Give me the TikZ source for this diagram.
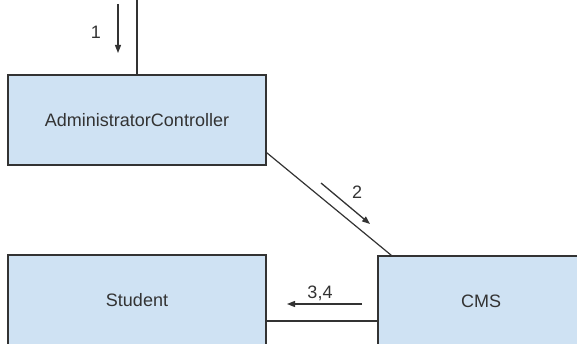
\documentclass[tikz,border=0pt]{standalone}
\usepackage{fontspec}
\setmainfont{Liberation Sans}
\usetikzlibrary{arrows.meta,calc}
\definecolor{boxfill}{HTML}{CFE2F3}
\definecolor{ink}{HTML}{333333}
\begin{document}
\begin{tikzpicture}[x=1pt,y=-1pt,
  cls/.style={draw=ink,fill=boxfill,line width=1.3pt,inner sep=0pt,
    minimum height=90pt,font=\fontsize{18}{20}\selectfont,text=ink},
  link/.style={draw=ink,line width=1.2pt},
  msg/.style={draw=ink,line width=1.3pt,-{Triangle[length=8pt,width=6pt]}},
  lbl/.style={font=\fontsize{18}{20}\selectfont,text=ink,inner sep=0pt}]
\useasboundingbox (0,0) rectangle (577,344);
\clip (0,0) rectangle (577,344);
\node[cls,minimum width=258pt] (admin) at (137,120) {AdministratorController};
\node[cls,minimum width=258pt] (student) at (137,300) {Student};
\node[cls,minimum width=206pt] (cms) at (481,301) {CMS};
\coordinate (top) at (137,-2);
\draw[link] (top) -- (admin.north);
\draw[link] ($(admin.south east)+(0,-13)$) -- ($(cms.north west)+(14,0)$);
\draw[link] ($(student.east)+(0,21)$) -- ($(cms.west)+(0,20)$);
\coordinate (m1a) at (118,4);
\coordinate (m1b) at (118,53);
\draw[msg] (m1a) -- (m1b);
\node[lbl] (l1) at (96,32) {1};
\coordinate (m2a) at (321,183);
\coordinate (m2b) at (370,224);
\draw[msg] (m2a) -- (m2b);
\node[lbl] (l2) at (357,192) {2};
\coordinate (m3a) at (362,304);
\coordinate (m3b) at (287,304);
\draw[msg] (m3a) -- (m3b);
\node[lbl] (l3) at (320,293) {3,4};
\end{tikzpicture}
\end{document}
